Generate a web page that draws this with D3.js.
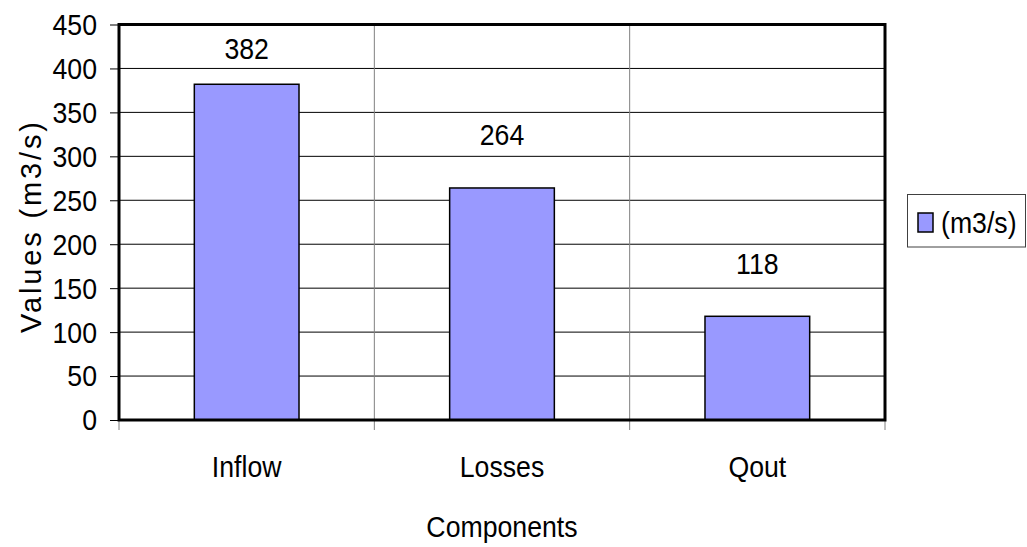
<!DOCTYPE html>
<html>
<head>
<meta charset="utf-8">
<script src="https://cdn.jsdelivr.net/npm/d3@7"></script>
<style>
  html, body { margin: 0; padding: 0; background: #fff; }
  svg text { font-family: "Liberation Sans", Arial, sans-serif; fill: #000; }
</style>
</head>
<body>
<svg id="chart" width="1027" height="547"></svg>
<script>
const categories = ["Inflow", "Losses", "Qout"];
const values = [382, 264, 118];
const yTicks = [0, 50, 100, 150, 200, 250, 300, 350, 400, 450];
const seriesName = "(m3/s)";
const xTitle = "Components";
const yTitle = "Values (m3/s)";

const svg = d3.select("#chart");
const L = 119, R = 885, T = 24.5, B = 420;
const FS = 29, SX = 0.92;

const x = d3.scaleBand().domain(categories).range([L, R]).padding(0);
const y = d3.scaleLinear().domain([0, 450]).range([B, T]);

function label(g, px, py, str, anchor, size) {
  return g.append("text")
    .attr("transform", `translate(${px},${py}) scale(${SX},1)`)
    .attr("text-anchor", anchor)
    .attr("font-size", size || FS)
    .text(str);
}

// horizontal gridlines
svg.append("g").selectAll("line").data(yTicks.filter(d => d > 0 && d < 450)).join("line")
  .attr("x1", L).attr("x2", R)
  .attr("y1", d => y(d)).attr("y2", d => y(d))
  .attr("stroke", "#000").attr("stroke-width", 1);

// vertical gridlines at category boundaries
const bounds = categories.slice(1).map(c => x(c));
svg.append("g").selectAll("line").data(bounds).join("line")
  .attr("x1", d => d).attr("x2", d => d)
  .attr("y1", T).attr("y2", B)
  .attr("stroke", "#808080").attr("stroke-width", 1);

// y axis tick marks
const yAxis = d3.axisLeft(y).tickValues(yTicks).tickSize(9).tickFormat("");
const ga = svg.append("g").attr("transform", `translate(${L},0)`).call(yAxis);
ga.select(".domain").remove();
ga.selectAll(".tick line").attr("stroke", "#000");

// y tick labels
const gyl = svg.append("g");
yTicks.forEach(t => label(gyl, 97, y(t) + 10.4, d3.format("d")(t), "end"));

// x axis tick marks at boundaries
const allBounds = [L, ...bounds, R];
svg.append("g").selectAll("line").data(allBounds).join("line")
  .attr("x1", d => d).attr("x2", d => d)
  .attr("y1", B).attr("y2", B + 10)
  .attr("stroke", "#808080").attr("stroke-width", 1);

// bars
const bw = x.bandwidth() * 0.41;
svg.append("g").selectAll("rect").data(values).join("rect")
  .attr("x", (d, i) => x(categories[i]) + x.bandwidth() / 2 - bw / 2)
  .attr("width", bw)
  .attr("y", d => y(d))
  .attr("height", d => B - y(d))
  .attr("fill", "#9999FF").attr("stroke", "#000").attr("stroke-width", 1.5);

// value labels
const gvl = svg.append("g");
values.forEach((v, i) => {
  label(gvl, x(categories[i]) + x.bandwidth() / 2, Math.max(y(v) - 42.5, T + 34), String(v), "middle");
});

// frame
svg.append("rect").attr("x", L).attr("y", T).attr("width", R - L).attr("height", B - T)
  .attr("fill", "none").attr("stroke", "#000").attr("stroke-width", 3);

// category labels
const gcl = svg.append("g");
categories.forEach(c => label(gcl, x(c) + x.bandwidth() / 2, 477, c, "middle"));

// axis titles
label(svg, (L + R) / 2, 537, xTitle, "middle");

svg.append("text").attr("transform", `translate(41,${(122 + 333) / 2}) rotate(-90)`)
  .attr("text-anchor", "middle").attr("font-size", FS)
  .attr("textLength", 211).attr("lengthAdjust", "spacing")
  .text(yTitle);

// legend
const lg = svg.append("g");
lg.append("rect").attr("x", 907.5).attr("y", 194.5).attr("width", 118).attr("height", 52.5)
  .attr("fill", "#fff").attr("stroke", "#404040").attr("stroke-width", 1);
lg.append("rect").attr("x", 918).attr("y", 213).attr("width", 15).attr("height", 19)
  .attr("fill", "#9999FF").attr("stroke", "#000").attr("stroke-width", 1.5);
label(lg, 941, 233, seriesName, "start");
</script>
</body>
</html>
